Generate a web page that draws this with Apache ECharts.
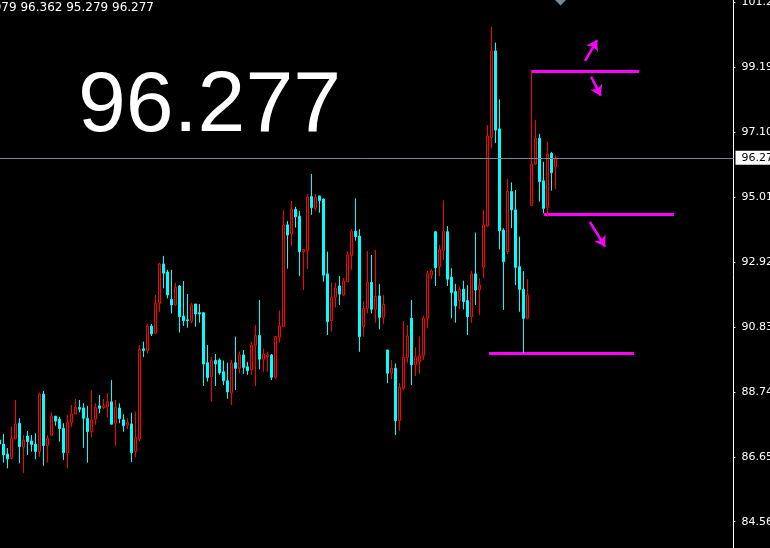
<!DOCTYPE html>
<html><head><meta charset="utf-8">
<script src="https://cdn.jsdelivr.net/npm/echarts@6/dist/echarts.min.js"></script>
<style>html,body{margin:0;padding:0;background:#000;}#c{width:770px;height:548px;}</style>
</head><body><div id="c"></div>
<script>
// candle values (bar index 0 = leftmost, partially visible)
const OPEN  = [87.19,87.06,86.74,86.60,87.23,87.73,86.96,87.32,87.16,87.06,86.82,88.67,87.01,87.34,87.96,87.86,87.57,86.78,87.75,88.03,88.24,88.22,87.89,87.46,87.86,88.29,88.23,88.26,88.42,87.73,88.22,87.84,87.67,87.71,86.82,87.21,90.13,90.07,90.86,90.63,91.59,92.86,92.60,91.72,91.54,92.15,91.18,91.06,91.00,91.57,91.29,91.29,89.68,89.23,89.75,89.77,89.39,89.10,88.71,89.68,89.50,89.93,89.55,89.45,90.24,90.56,89.79,89.87,89.93,89.21,90.50,90.84,94.12,93.82,94.62,94.40,93.26,93.29,95.03,94.65,95.05,94.95,92.54,91.03,91.79,92.15,91.86,92.29,93.13,93.92,93.76,90.84,91.43,92.27,91.40,91.83,91.14,90.09,89.34,89.50,87.81,88.86,89.85,91.11,89.61,89.71,89.91,91.11,92.50,93.90,92.77,93.29,93.90,92.43,91.97,91.68,92.05,91.68,91.16,92.54,92.04,92.75,94.08,96.93,99.72,97.21,93.95,93.26,95.19,94.60,92.77,92.04,91.11,94.74,96.08,96.91,95.54,94.67,96.42,95.979];
const CLOSE = [87.06,86.71,86.58,87.25,87.71,86.98,87.19,87.14,87.05,86.82,88.67,87.01,87.25,87.96,87.80,87.56,86.78,87.76,88.03,88.24,88.18,87.89,87.46,87.84,88.24,88.21,88.29,88.42,87.70,88.24,87.88,87.65,87.75,86.78,87.27,90.11,90.07,90.86,90.61,91.59,92.86,92.56,91.86,91.54,92.11,91.16,91.03,91.03,91.54,91.25,91.25,89.64,89.20,89.75,89.64,89.36,89.10,88.74,89.66,89.50,89.93,89.53,89.42,90.25,90.55,89.79,89.96,89.93,89.21,90.52,90.86,94.12,93.79,94.62,94.38,93.26,93.33,95.01,94.67,95.01,94.90,92.50,91.00,91.79,92.08,91.89,92.31,93.15,93.92,93.74,90.52,91.43,92.27,91.40,91.81,91.14,91.56,89.34,89.50,87.81,88.89,89.85,90.54,89.61,89.87,89.90,91.11,92.54,92.63,92.74,93.33,93.90,92.37,91.94,91.51,92.04,91.65,91.16,92.54,92.02,92.18,94.12,96.98,99.72,97.17,93.93,92.93,95.19,94.60,92.75,92.04,91.11,91.86,96.08,96.91,95.51,94.65,96.40,95.80,96.277];
const LOW   = [86.87,86.46,86.28,86.57,87.21,86.44,86.12,86.71,86.82,86.57,86.65,86.36,86.46,87.34,87.65,87.14,86.55,86.28,87.62,88.03,88.08,86.94,86.46,87.28,87.68,88.05,88.18,87.92,87.70,87.00,87.73,87.46,87.54,86.48,86.63,87.16,89.86,89.98,90.54,90.61,91.32,92.08,91.75,91.27,91.51,90.65,90.86,90.81,90.95,90.84,90.97,88.93,89.07,88.43,88.93,89.29,88.96,88.52,88.32,88.80,89.34,89.32,89.29,89.29,88.93,89.47,89.39,89.39,89.12,89.15,90.33,90.84,92.71,93.44,94.03,92.47,92.02,92.70,94.44,94.58,94.51,92.29,90.57,90.68,91.46,91.54,91.83,92.29,92.67,93.61,90.03,90.52,91.27,91.27,90.97,90.76,90.93,89.02,89.15,87.35,87.49,88.80,89.68,88.96,89.25,89.32,89.77,90.79,92.37,92.15,92.47,92.99,92.15,91.11,90.97,91.40,91.40,90.57,90.97,91.54,91.22,92.40,94.06,96.58,96.75,93.33,91.38,93.18,94.01,92.18,91.32,90.00,91.08,94.74,96.05,94.87,94.49,94.38,95.22,95.279];
const HIGH  = [87.35,87.39,86.93,87.62,88.48,87.89,87.35,87.48,87.35,87.41,88.71,88.77,87.35,88.08,87.96,87.94,87.73,87.99,88.32,88.51,88.48,88.37,88.29,88.80,88.37,88.64,88.51,88.70,89.12,88.48,88.37,88.02,87.89,88.07,88.10,90.25,90.36,90.95,90.93,91.86,92.90,93.12,92.67,92.67,92.26,92.18,92.31,91.89,91.61,91.57,91.57,91.29,90.25,89.86,89.96,89.82,89.75,89.68,89.77,90.52,90.04,90.09,89.71,90.36,90.89,91.70,90.14,90.04,89.96,90.54,91.36,94.60,94.24,94.89,94.70,94.57,93.33,95.11,95.76,95.11,95.05,94.97,93.26,92.26,92.26,92.47,92.40,93.28,93.98,94.97,93.98,91.65,93.28,93.15,93.31,92.21,91.86,90.09,89.77,89.66,89.02,91.02,90.89,91.70,90.18,90.52,91.18,92.64,92.69,93.90,93.47,94.90,94.08,92.72,92.22,92.13,92.32,92.18,92.64,93.87,92.40,94.60,97.33,100.50,99.99,98.16,94.01,95.59,95.49,95.24,93.74,92.63,92.37,99.09,97.50,97.05,96.15,96.80,96.47,96.362];

// price axis ticks
const TICK_FIRST = 82.47, TICK_STEP = 2.09, AXIS_TOP = 101.36;
const SLOTS = 184; // bar slots across the plot (incl. right shift area)

// horizontal magenta levels: price, from bar, to bar
const LEVEL_PRICE = [99.07, 94.46, 89.99];
const LEVEL_FROM  = [132.9, 136.1, 122.4];
const LEVEL_TO    = [159.9, 168.6, 158.6];
// magenta arrows: start (bar, price) -> end (bar, price)
const ARROW_X1 = [146.4, 147.9, 147.6];
const ARROW_Y1 = [99.40, 98.89, 94.21];
const ARROW_X2 = [149.4, 150.3, 151.4];
const ARROW_Y2 = [100.07, 98.28, 93.42];

const n = OPEN.length;
const last = n - 1;
const cats = Array.from({length: SLOTS}, (_, i) => String(i));
const candles = OPEN.map((o, i) => [o, CLOSE[i], LOW[i], HIGH[i]]);
const levelLines = LEVEL_PRICE.map((p, i) => ({coords: [[LEVEL_FROM[i], p], [LEVEL_TO[i], p]]}));
const arrowLines = ARROW_X1.map((x, i) => ({coords: [[x, ARROW_Y1[i]], [ARROW_X2[i], ARROW_Y2[i]]]}));

const chart = echarts.init(document.getElementById('c'), null, {renderer: 'canvas'});
const fmt = v => v.toFixed(3);
chart.setOption({
  animation: false,
  backgroundColor: '#000000',
  grid: {left: -2.5, right: 36.5, top: 0, bottom: -38.6, containLabel: false, outerBoundsMode: 'none'},
  xAxis: [
    {type: 'category', data: cats, boundaryGap: true, show: false},
    {type: 'value', min: -0.5, max: SLOTS - 0.5, show: false}
  ],
  yAxis: {
    type: 'value', position: 'right', scale: true,
    min: TICK_FIRST, max: AXIS_TOP, interval: TICK_STEP,
    splitLine: {show: false},
    axisLine: {show: true, onZero: false, lineStyle: {color: '#ffffff', width: 1}},
    axisTick: {show: true, length: 2, lineStyle: {color: '#ffffff'}},
    axisLabel: {color: '#ffffff', fontFamily: 'DejaVu Sans', fontSize: 11, margin: 8,
      showMaxLabel: false, showMinLabel: false, formatter: fmt}
  },
  series: [
    {
      type: 'candlestick', xAxisIndex: 0, yAxisIndex: 0, data: candles, barWidth: 2,
      itemStyle: {color: '#000000', color0: '#00ffff', borderColor: '#ff0000', borderColor0: '#00ffff', borderWidth: 1},
      emphasis: {disabled: true},
      markLine: {
        silent: true, animation: false, symbol: ['none', 'none'],
        lineStyle: {color: '#778899', width: 1, type: 'solid'},
        label: {show: true, position: 'end', distance: 2, formatter: () => fmt(CLOSE[last]),
          color: '#000000', backgroundColor: '#ffffff', fontFamily: 'DejaVu Sans', fontSize: 11,
          lineHeight: 11, padding: [2, 6, 1, 6]},
        emphasis: {disabled: true},
        data: [{yAxis: CLOSE[last]}]
      }
    },
    {
      type: 'lines', coordinateSystem: 'cartesian2d', xAxisIndex: 1, yAxisIndex: 0,
      data: levelLines, symbol: ['none', 'none'], silent: true,
      lineStyle: {color: '#ff00ff', width: 3, opacity: 1}
    },
    {
      type: 'lines', coordinateSystem: 'cartesian2d', xAxisIndex: 1, yAxisIndex: 0,
      data: arrowLines, symbol: ['none', 'arrow'], symbolSize: 10, silent: true,
      lineStyle: {color: '#ff00ff', width: 2.5, opacity: 1}
    }
  ],
  graphic: [
    {type: 'text', x: 154, y: 2, silent: true,
      style: {text: [OPEN[last], HIGH[last], LOW[last], CLOSE[last]].map(fmt).join(' '),
        fill: '#ffffff', font: '12px "DejaVu Sans"', textAlign: 'right', textVerticalAlign: 'top'}},
    {type: 'text', x: 78, y: 107, silent: true,
      style: {text: fmt(CLOSE[last]), fill: '#ffffff', font: '86px "Liberation Sans"', textAlign: 'left', textVerticalAlign: 'middle'}},
    {type: 'polygon', silent: true, shape: {points: [[555, 0], [566, 0], [560.5, 5.5]]}, style: {fill: '#778899'}}
  ]
});
</script>
</body></html>
